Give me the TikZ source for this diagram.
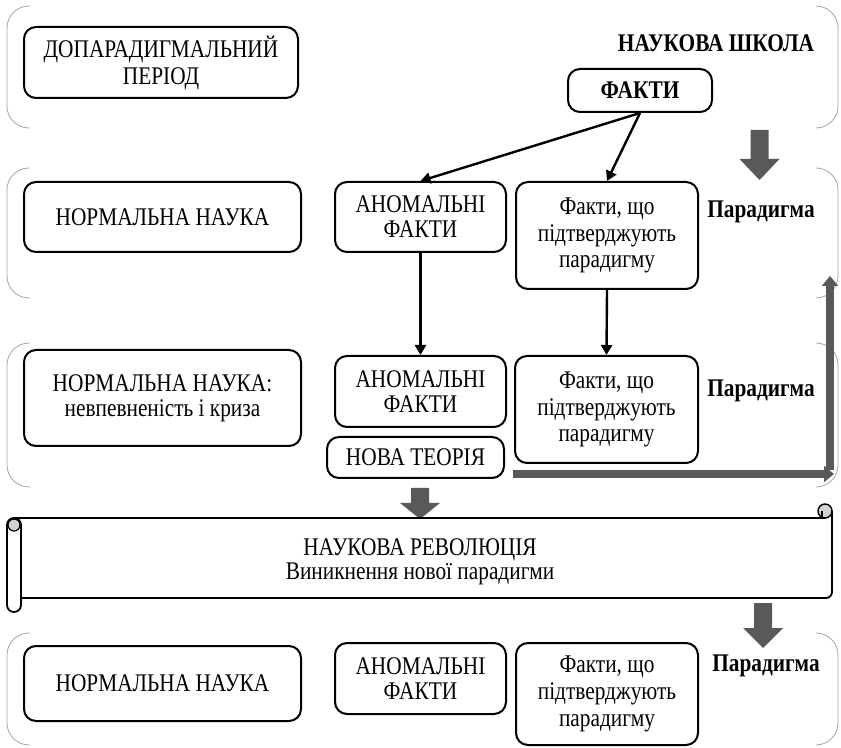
\documentclass[tikz,border=0pt]{standalone}
\usepackage{fontspec}
\setmainfont{Liberation Serif}[FakeStretch=0.84]
\usetikzlibrary{arrows.meta}
\definecolor{bracketgray}{RGB}{165,165,165}
\definecolor{arrowgray}{RGB}{89,89,89}

\begin{document}
\begin{tikzpicture}[x=0.5pt, y=-0.5pt,
        font=\fontsize{12.7}{12.5}\selectfont,
        box/.style={draw, line width=1pt, rounded corners=6pt, align=center, inner sep=0pt},
        confbox/.style={box, font=\fontsize{12.7}{13.3}\selectfont},
        bracket/.style={draw=bracketgray, line width=0.4pt, rounded corners=11pt},
        fact/.style={-{Triangle[length=5pt,width=5.5pt]}, line width=1.2pt},
        wide/.style={-{Triangle[length=5pt,width=8pt]}, line width=3.6pt, draw=arrowgray}]
    \useasboundingbox (0,0) rectangle (841,748);
    % bands
    \foreach \t/\b in {6/128, 168/298, 343/487, 633/745}{
        \draw[bracket] (30,\t) -- (7,\t) -- (7,\b) -- (30,\b);
        \draw[bracket] (816,\t) -- (838,\t) -- (838,\b) -- (816,\b);
    }
    % block arrows
    \foreach \x/\t/\h/\b in {759.5/130/159/180, 420/488/503/519, 763/603/628/648}{
        \fill[arrowgray] (\x-9,\t) -- (\x+9,\t) -- (\x+9,\h) -- (\x+20,\h) -- (\x,\b)
            -- (\x-20,\h) -- (\x-9,\h) -- cycle;
    }

    \node[box, minimum width=137pt, minimum height=35.5pt, font=\fontsize{12.7}{13.5}\selectfont] (prep) at (161,62.5) {ДОПАРАДИГМАЛЬНИЙ\\ПЕРІОД};
    \node[box, minimum width=72pt, minimum height=21.5pt] (facts) at (640,90.5) {\bfseries ФАКТИ};
    \node (school) at (716,43) {\bfseries НАУКОВА ШКОЛА};

    \node[box, minimum width=138.5pt, minimum height=35pt] (norm1) at (162.5,217) {НОРМАЛЬНА НАУКА};
    \node[box, minimum width=85.5pt, minimum height=35pt] (anom1) at (420.5,217) {АНОМАЛЬНІ\\ФАКТИ};
    \node[confbox, minimum width=91pt, minimum height=53.5pt] (conf1) at (607,235.5) {Факти, що\\підтверджують\\парадигму};
    \node (para1) at (761,212) {\bfseries Парадигма};

    \node[box, minimum width=138.5pt, minimum height=48pt] (norm2) at (162.5,398) {НОРМАЛЬНА НАУКА:\\невпевненість і криза};
    \node[box, minimum width=85.5pt, minimum height=35.5pt] (anom2) at (420.5,391.5) {АНОМАЛЬНІ\\ФАКТИ};
    \node[box, minimum width=88.5pt, minimum height=20.5pt] (theory) at (415.5,457.5) {НОВА ТЕОРІЯ};
    \node[confbox, minimum width=91.5pt, minimum height=53.5pt] (conf2) at (606.5,409.5) {Факти, що\\підтверджують\\парадигму};
    \node (para2) at (761,391) {\bfseries Парадигма};

    \node[box, minimum width=138.5pt, minimum height=37.5pt] (norm3) at (162.5,683.5) {НОРМАЛЬНА НАУКА};
    \node[box, minimum width=85.5pt, minimum height=35.5pt] (anom3) at (420.5,678.5) {АНОМАЛЬНІ\\ФАКТИ};
    \node[confbox, minimum width=91pt, minimum height=51pt] (conf3) at (607,694) {Факти, що\\підтверджують\\парадигму};
    \node (para3) at (766,666) {\bfseries Парадигма};

    \draw[fact] (facts.south) -- (anom1.north);
    \draw[fact] (facts.south) -- (conf1.north);
    \draw[fact] (anom1.south) -- (anom2.north);
    \draw[fact] (conf1.south) -- (conf2.north);

    % thick arrows back to the paradigm
    \coordinate (h0) at (513,474);
    \coordinate (h1) at (834,474);
    \coordinate (v0) at (830,470);
    \coordinate (v1) at (830,276);
    \draw[wide] (h0) -- (h1);
    \draw[wide] (v0) -- (v1);

    % scroll
    \draw[line width=0.9pt] (14,518) -- (826,518);
    \draw[line width=0.9pt, rounded corners=3pt] (832,511) -- (832,598) -- (21,598);
    \draw[line width=0.7pt, fill=gray!35] (825,511) circle (3.5pt);
    \draw[line width=0.6pt] (822,511) -- (822,518);
    \draw[line width=0.9pt, fill=white, rounded corners=3.5pt] (7,518) rectangle (21,612);
    \draw[line width=0.6pt, fill=gray!35] (14,525) circle (3pt);
    \node[align=center, font=\fontsize{12.7}{12}\selectfont] (revol) at (420,562) {НАУКОВА РЕВОЛЮЦІЯ\\Виникнення нової парадигми};
\end{tikzpicture}
\end{document}
